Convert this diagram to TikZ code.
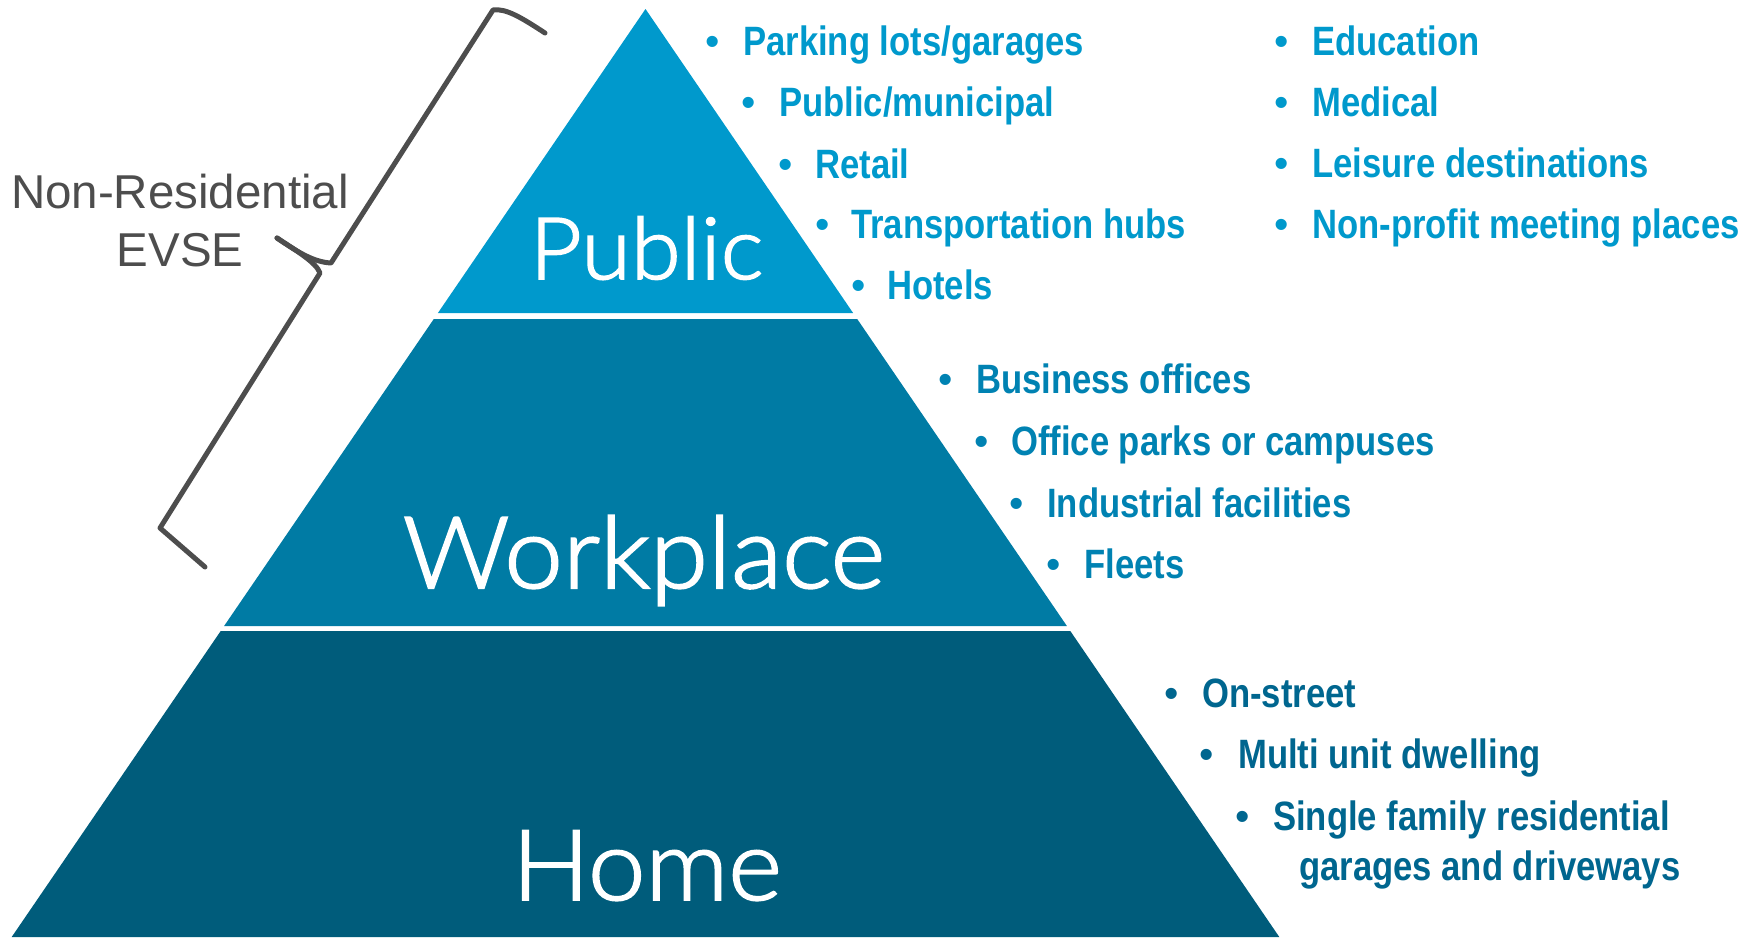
\documentclass[tikz,border=0pt]{standalone}
\usepackage{fontspec}
\newfontfamily\tierfont[FakeBold=2,FakeStretch=1.05]{Lato Light}
\newfontfamily\listfont[FakeStretch=0.845]{Liberation Sans}
\newfontfamily\labfont{Liberation Sans}
\definecolor{pubfill}{HTML}{0099CC}
\definecolor{workfill}{HTML}{007BA4}
\definecolor{homefill}{HTML}{005C7B}
\definecolor{pubtext}{HTML}{0099CC}
\definecolor{worktext}{HTML}{0082B2}
\definecolor{hometext}{HTML}{00668F}
\definecolor{bracegray}{HTML}{4D4D4D}
\begin{document}
\begin{tikzpicture}[x=1pt,y=-1pt,
  tierlabel/.style={text=white,anchor=base,inner sep=0pt},
  item/.style={anchor=base west,inner sep=0pt,font=\listfont\bfseries\fontsize{41}{41}\selectfont},
  bul/.style={anchor=base,inner sep=0pt,font=\labfont\fontsize{41}{41}\selectfont},
  pubitem/.style={item,text=pubtext},
  pubbul/.style={bul,text=pubtext},
  workitem/.style={item,text=worktext},
  workbul/.style={bul,text=worktext},
  homeitem/.style={item,text=hometext},
  homebul/.style={bul,text=hometext},
  bracestyle/.style={draw=bracegray,line width=5pt,line cap=round,line join=round}]
\useasboundingbox (0,0) rectangle (1760,937);
% tiers
\fill[pubfill] (645.5,9) -- (853.1,313) -- (437.9,313) -- cycle;
\fill[workfill] (433.8,319) -- (857.2,319) -- (1066.9,626) -- (224.1,626) -- cycle;
\fill[homefill] (220.7,631) -- (1070.3,631) -- (1279.3,937) -- (11.7,937) -- cycle;
% tier labels
\node[tierlabel,font=\tierfont\fontsize{86}{86}\selectfont] (tpub) at (646.5,279) {Public};
\node[tierlabel,font=\tierfont\fontsize{100}{100}\selectfont] (twork) at (644,588) {Workplace};
\node[tierlabel,font=\tierfont\fontsize{98}{98}\selectfont] (thome) at (647,900) {Home};
% public column 1
\node[pubbul] (pb1) at (713,55) {•};
\node[pubitem] (p1) at (743,55) {Parking lots/garages};
\node[pubbul] (pb2) at (749,116) {•};
\node[pubitem] (p2) at (779,116) {Public/municipal};
\node[pubbul] (pb3) at (786,178) {•};
\node[pubitem] (p3) at (815,178) {Retail};
\node[pubbul] (pb4) at (823,238) {•};
\node[pubitem] (p4) at (851,238) {Transportation hubs};
\node[pubbul] (pb5) at (859,299) {•};
\node[pubitem] (p5) at (887,299) {Hotels};
% public column 2
\node[pubbul] (qb1) at (1282,55) {•};
\node[pubitem] (q1) at (1312,55) {Education};
\node[pubbul] (qb2) at (1282,116) {•};
\node[pubitem] (q2) at (1312,116) {Medical};
\node[pubbul] (qb3) at (1282,177) {•};
\node[pubitem] (q3) at (1312,177) {Leisure destinations};
\node[pubbul] (qb4) at (1282,238) {•};
\node[pubitem] (q4) at (1312,238) {Non-profit meeting places};
% workplace
\node[workbul] (wb1) at (946,393) {•};
\node[workitem] (w1) at (976,393) {Business offices};
\node[workbul] (wb2) at (982,455) {•};
\node[workitem] (w2) at (1011,455) {Office parks or campuses};
\node[workbul] (wb3) at (1017,517) {•};
\node[workitem] (w3) at (1047,517) {Industrial facilities};
\node[workbul] (wb4) at (1054,578) {•};
\node[workitem] (w4) at (1084,578) {Fleets};
% home
\node[homebul] (hb1) at (1172,707) {•};
\node[homeitem] (h1) at (1202,707) {On-street};
\node[homebul] (hb2) at (1207,768) {•};
\node[homeitem] (h2) at (1238,768) {Multi unit dwelling};
\node[homebul] (hb3) at (1243,830) {•};
\node[homeitem] (h3) at (1273,830) {Single family residential};
\node[homeitem] (h4) at (1299,880) {garages and driveways};
% brace label
\node[anchor=base,inner sep=0pt,text=bracegray,font=\labfont\fontsize{47.5}{47.5}\selectfont] (nr1) at (180,208) {Non-Residential};
\node[anchor=base,inner sep=0pt,text=bracegray,font=\labfont\fontsize{47.5}{47.5}\selectfont] (nr2) at (180,266) {EVSE};
% brace
\coordinate (bTop) at (545,33);
\coordinate (bTip) at (277,238);
\coordinate (bBot) at (205,567);
\draw[bracestyle] (bTop) .. controls (522,18) and (506,8) .. (493,10) -- (331,263) .. controls (312,262) and (295,250) .. (bTip);
\draw[bracestyle] (bTip) .. controls (295,250) and (316,262) .. (320,273) -- (160,528) -- (bBot);
\end{tikzpicture}
\end{document}
